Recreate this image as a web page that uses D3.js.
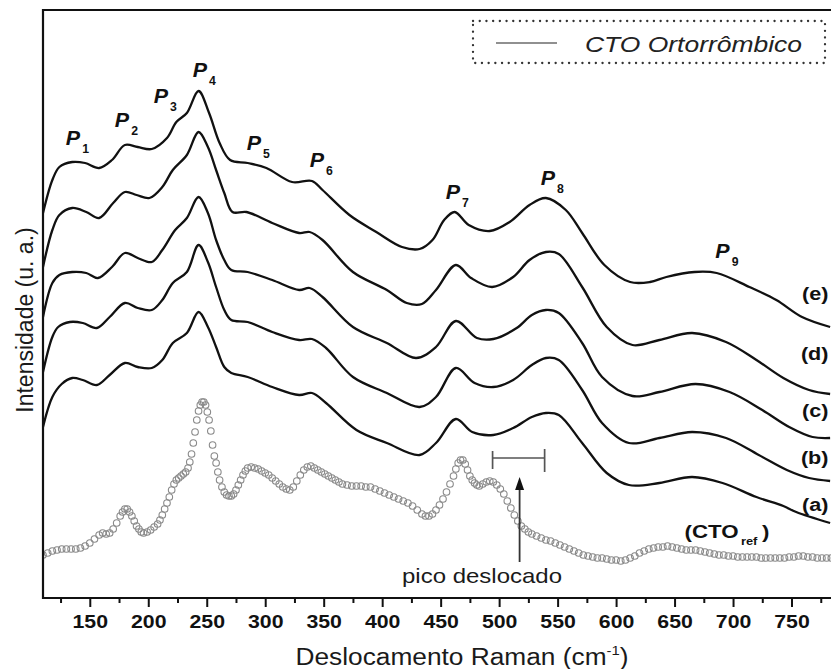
<!DOCTYPE html>
<html><head><meta charset="utf-8">
<script src="https://cdn.jsdelivr.net/npm/d3@7"></script>
<style>
body{margin:0;background:#fff}
svg{display:block}
text{font-family:"Liberation Sans",Arial,Helvetica,sans-serif}
</style>
</head><body>
<svg id="chart" width="831" height="669"></svg>
<script>
// ---------- DATA (wavenumber cm^-1, intensity a.u.) ----------
const curveE = [[110,385],[118,418],[124,431],[135,436],[146,435],[158,430],[169,438],[180,453],[191,451],[203,449],[216,460],[224,476],[233,485],[243,507],[252,485],[261,455],[270,438],[285,435],[301,430],[323,416],[340,417],[349,408],[372,383],[395,366],[417,351],[432,349],[443,358],[453,378],[462,386],[474,373],[492,367],[509,376],[526,393],[540,400],[557,388],[571,365],[590,333],[612,316],[629,316],[643,321],[667,326],[686,325],[714,311],[737,298],[759,281],[783,271]];
const curveD = [[110,331],[118,368],[124,383],[135,390],[147,386],[158,380],[170,395],[180,406],[190,403],[201,400],[212,411],[221,428],[233,443],[243,466],[251,451],[258,428],[265,405],[272,386],[284,386],[306,375],[329,365],[338,366],[349,358],[375,326],[404,308],[421,295],[434,294],[446,308],[463,333],[476,320],[494,311],[512,321],[526,338],[540,346],[551,344],[571,311],[592,271],[614,253],[637,258],[665,265],[694,256],[720,238],[743,220],[765,208],[783,204]];
const curveC = [[110,281],[118,315],[124,323],[135,326],[147,325],[157,320],[169,331],[180,345],[191,340],[203,336],[212,348],[223,368],[233,380],[243,401],[251,385],[258,358],[265,338],[271,328],[285,326],[306,318],[329,308],[338,310],[349,301],[375,271],[404,255],[429,240],[446,251],[463,277],[481,260],[495,259],[515,270],[528,283],[540,288],[551,285],[571,255],[588,221],[614,202],[637,206],[668,214],[697,206],[725,188],[748,171],[768,161],[783,160]];
const curveB = [[110,226],[118,261],[123,271],[133,276],[144,275],[156,270],[167,281],[180,295],[191,290],[203,288],[212,298],[221,315],[233,326],[243,353],[251,336],[258,311],[265,288],[271,278],[285,276],[306,266],[329,258],[340,259],[352,250],[375,221],[404,205],[432,191],[446,201],[463,230],[479,215],[495,211],[512,218],[528,233],[540,240],[551,238],[571,208],[588,175],[611,155],[637,160],[665,166],[694,160],[722,143],[746,128],[765,120],[783,117]];
const curveA = [[110,171],[118,201],[126,214],[135,220],[144,218],[156,213],[167,223],[180,235],[191,231],[203,230],[212,238],[221,255],[233,265],[243,286],[251,271],[258,251],[265,231],[271,225],[285,221],[306,211],[329,203],[340,205],[352,195],[378,168],[404,155],[432,143],[446,155],[463,179],[477,166],[495,163],[512,170],[528,181],[540,185],[551,183],[571,155],[592,125],[611,113],[637,115],[665,121],[691,115],[720,101],[743,92],[754,86],[783,75]];
const refSpectrum = [[110,43],[114,45],[118,47],[122,48],[126,49],[130,49],[134,49],[138,49],[142,50],[146,52],[150,55],[154,59],[158,63],[161,65],[164,64],[167,65],[170,69],[173,75],[176,82],[178,86],[180,89],[182,89],[184,86],[186,82],[188,77],[190,72],[192,69],[194,66],[196,65],[199,66],[202,68],[205,71],[208,74],[210,78],[212,83],[214,89],[216,95],[218,101],[220,108],[222,114],[224,118],[226,120],[228,122],[230,124],[232,126],[234,130],[235.5,136],[237,144],[238.5,155],[240,166],[241.5,178],[243,187],[244.5,193],[246,196],[247.5,196],[249,193],[250.5,186],[252,178],[253.5,167],[255,153],[256.5,142],[258,135],[259.5,126],[261,118],[263,111],[265,106],[267,103],[269,102],[271,102],[273,104],[275,108],[277,113],[279,118],[281,123],[283,127],[285,130],[288,131],[291,130],[294,129],[297,127],[300,125],[303,123],[306,120],[309,117],[312,114],[315,111],[318,109],[321,108],[324,111],[327,117],[330,123],[333,128],[336,131],[339,132],[342,130],[345,128],[348,126],[351,124],[354,122],[357,120],[360,118],[363,116],[366,114],[370,113],[374,112],[378,112],[382,112],[386,111],[390,111],[394,109],[398,107],[402,105],[406,103],[410,101],[414,99],[418,97],[422,95],[426,92],[430,88],[434,84],[437,82],[440,82],[443,84],[446,88],[449,93],[452,99],[455,106],[458,114],[461,122],[463,129],[465,135],[467,138],[469,138],[471,134],[473,128],[475,122],[477,118],[479,115],[481,113],[483,112],[486,114],[489,116],[492,117],[495,116],[498,113],[501,109],[504,104],[507,97],[510,90],[513,83],[516,77],[519,72],[522,69],[525,66],[528,64],[532,62],[536,60],[540,58],[544,57],[548,55],[552,53],[556,51],[560,49],[564,47],[568,45],[572,43],[576,42],[580,41],[584,40],[588,40],[592,39],[596,38],[600,38],[604,37],[608,38],[612,40],[616,42],[620,45],[624,47],[628,49],[632,50],[636,51],[640,51],[644,52],[648,51],[652,50],[656,49],[660,48],[664,48],[668,48],[672,47],[676,46],[680,45],[684,44],[688,43],[692,43],[696,42],[700,42],[704,41],[708,41],[712,41],[716,41],[720,41],[724,40],[728,40],[732,40],[736,40],[740,40],[744,40],[748,41],[752,41],[756,42],[760,42],[764,41],[768,41],[772,40],[776,40],[780,40],[784,40]];

const xTicks = [150,200,250,300,350,400,450,500,550,600,650,700,750];
const xMinorTicks = [125,175,225,275,325,375,425,475,525,575,625,675,725,775];
const seriesNames = ["(a)","(b)","(c)","(d)","(e)"];
const peakNames = ["1","2","3","4","5","6","7","8","9"];
// annotation anchor positions (data units)
const peakPos = [[129.5,453],[171.4,471],[204.7,495],[238,521],[284.2,448],[338,431],[454.3,399],[535.5,413],[684.9,340]];
const seriesLabelPos = [[781.6,87],[781.6,134],[781.6,181],[781.6,238],[781.6,298]];

// ---------- CHART ----------
const W = 831, H = 669;
const svg = d3.select("#chart");
const x = d3.scaleLinear().domain([110, 800]).range([43, 850]);
const y = d3.scaleLinear().domain([0, 588]).range([598, 10]);
const K = 1.15;
function stretch(sel, k) {
  sel.each(function () {
    const w = this.getComputedTextLength();
    d3.select(this).attr("textLength", w * k).attr("lengthAdjust", "spacingAndGlyphs");
  });
}

svg.append("clipPath").attr("id", "clip").append("rect")
  .attr("x", 43).attr("y", 10).attr("width", W - 43).attr("height", 588);
const plot = svg.append("g").attr("clip-path", "url(#clip)");

const line = d3.line().x(d => x(d[0])).y(d => y(d[1])).curve(d3.curveCatmullRom.alpha(0.5));
[curveA, curveB, curveC, curveD, curveE].forEach(c => {
  plot.append("path").attr("d", line(c)).attr("fill", "none")
    .attr("stroke", "#111").attr("stroke-width", 2.3).attr("stroke-linejoin", "round");
});

plot.append("g").selectAll("circle").data(refSpectrum).join("circle")
  .attr("cx", d => x(d[0])).attr("cy", d => y(d[1])).attr("r", 3.3)
  .attr("fill", "none").attr("stroke", "#8a8a8a").attr("stroke-width", 1.1);

// axes frame
svg.append("line").attr("x1", 43).attr("x2", W).attr("y1", 10).attr("y2", 10).attr("stroke", "#111").attr("stroke-width", 2.2);
svg.append("line").attr("x1", 43).attr("x2", 43).attr("y1", 9).attr("y2", 599).attr("stroke", "#111").attr("stroke-width", 2.2);
svg.append("line").attr("x1", 42).attr("x2", W).attr("y1", 598).attr("y2", 598).attr("stroke", "#111").attr("stroke-width", 2.2);

const xAxis = d3.axisBottom(x).tickValues(xTicks).tickSize(9).tickPadding(8).tickSizeOuter(0).tickFormat(d3.format("d"));
const gx = svg.append("g").attr("transform", "translate(0,598)").call(xAxis);
gx.select(".domain").remove();
gx.selectAll(".tick line").attr("stroke", "#111").attr("stroke-width", 2);
gx.selectAll(".tick text").attr("font-size", 19).attr("font-weight", "bold").attr("fill", "#111");
stretch(gx.selectAll(".tick text"), 1.12);

const gxm = svg.append("g").attr("transform", "translate(0,598)")
  .call(d3.axisBottom(x).tickValues(xMinorTicks).tickSize(5).tickSizeOuter(0).tickFormat(""));
gxm.select(".domain").remove();
gxm.selectAll(".tick line").attr("stroke", "#111").attr("stroke-width", 2);

// axis titles
const xt = svg.append("text").attr("x", 462).attr("y", 665).attr("text-anchor", "middle")
  .attr("font-size", 23).attr("fill", "#1a1a1a");
xt.append("tspan").text("Deslocamento Raman (cm");
xt.append("tspan").attr("font-size", 13).attr("dy", -10).text("-1");
xt.append("tspan").attr("dy", 10).text(")");
xt.attr("textLength", 333).attr("lengthAdjust", "spacingAndGlyphs");

svg.append("text").attr("transform", "translate(33,320) rotate(-90)").attr("text-anchor", "middle")
  .attr("font-size", 23).attr("fill", "#1a1a1a").text("Intensidade (u. a.)");

// peak labels
peakNames.forEach((s, i) => {
  const t = svg.append("text").attr("x", x(peakPos[i][0])).attr("y", y(peakPos[i][1]))
    .attr("font-size", 21).attr("font-weight", "bold").attr("font-style", "italic").attr("fill", "#111");
  t.append("tspan").text("P");
  t.append("tspan").attr("dx", 2).attr("dy", 8).attr("font-size", 12).attr("font-style", "normal").text(s);
  stretch(t, 1.12);
});

// series labels
seriesNames.forEach((s, i) => {
  const t = svg.append("text").attr("x", x(seriesLabelPos[i][0])).attr("y", y(seriesLabelPos[i][1]))
    .attr("text-anchor", "end").attr("font-size", 18).attr("font-weight", "bold").attr("fill", "#111").text(s);
  stretch(t, 1.2);
});

// (CTO_ref)
const ct = svg.append("text").attr("x", x(658.5)).attr("y", y(60))
  .attr("font-size", 19).attr("font-weight", "bold").attr("fill", "#111");
ct.append("tspan").text("(CTO");
ct.append("tspan").attr("dx", 2).attr("dy", 7).attr("font-size", 11).text("ref");
ct.append("tspan").attr("dx", 4).attr("dy", -7).text(")");
ct.attr("textLength", 85).attr("lengthAdjust", "spacingAndGlyphs");

// bracket (peak shift)
const bx1 = x(494.4), bx2 = x(538.9), by = y(140);
const br = svg.append("g").attr("stroke", "#555").attr("stroke-width", 1.7);
br.append("line").attr("x1", bx1).attr("x2", bx2).attr("y1", by).attr("y2", by);
br.append("line").attr("x1", bx1).attr("x2", bx1).attr("y1", by - 7).attr("y2", by + 11);
br.append("line").attr("x1", bx2).attr("x2", bx2).attr("y1", by - 9).attr("y2", by + 14);

// arrow
const ax0 = x(517.5), aTip = y(121), aBot = y(36);
svg.append("line").attr("x1", ax0).attr("x2", ax0).attr("y1", aBot).attr("y2", aTip + 10)
  .attr("stroke", "#333").attr("stroke-width", 1.8);
svg.append("path").attr("d", `M${ax0},${aTip} L${ax0 - 4.5},${aTip + 13} L${ax0 + 4.5},${aTip + 13} Z`).attr("fill", "#111");

const pd = svg.append("text").attr("x", 482).attr("y", 583).attr("text-anchor", "middle")
  .attr("font-size", 21).attr("fill", "#1a1a1a").text("pico deslocado");
pd.attr("textLength", 160).attr("lengthAdjust", "spacingAndGlyphs");

// legend
const lg = svg.append("g");
lg.append("rect").attr("x", 473).attr("y", 21).attr("width", 352).attr("height", 42)
  .attr("fill", "#fff").attr("stroke", "#333").attr("stroke-width", 2.3)
  .attr("stroke-dasharray", "0.1 6.6").attr("stroke-linecap", "round");
lg.append("line").attr("x1", 496).attr("x2", 557).attr("y1", 43).attr("y2", 43).attr("stroke", "#222").attr("stroke-width", 1.2);
lg.append("text").attr("x", 585).attr("y", 52).attr("font-size", 22).attr("font-style", "italic")
  .attr("fill", "#222").attr("textLength", 217).attr("lengthAdjust", "spacingAndGlyphs").text("CTO Ortorrômbico");
</script>
</body></html>
